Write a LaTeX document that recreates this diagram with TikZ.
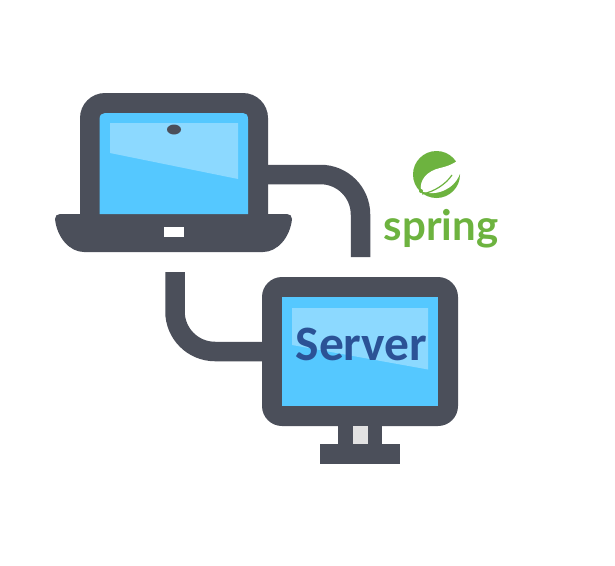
\documentclass[tikz,border=0pt]{standalone}
\usepackage{fontspec}
\newfontfamily\serverfont{Carlito}
\newfontfamily\springfont{Lato}
\usetikzlibrary{calc, positioning}
\definecolor{slate}{HTML}{4B4F5A}
\definecolor{sky}{HTML}{55C8FF}
\definecolor{glare}{HTML}{8CD9FF}
\definecolor{leaf}{HTML}{6DB33F}
\definecolor{label}{HTML}{2B5296}
\definecolor{neckfill}{HTML}{E2E2E2}
\tikzset{
	case/.style={shape=rectangle, fill=slate, inner sep=0pt},
	cable/.style={draw=slate, line width=19.5pt, rounded corners=40pt},
}
\begin{document}
\begin{tikzpicture}[x=1pt, y=-1pt]
	\useasboundingbox (0, 0) rectangle (615, 565);
	\fill[white] (0, 0) rectangle (615, 565);

	% laptop
	\node[case, rounded corners=25pt, minimum width=188pt, minimum height=150pt] (laptop) at (174, 168) {};
	\fill[slate] (60, 214) -- (287, 214) .. controls (290, 214) and (292, 216) .. (292, 219) .. controls (290, 238) and (277, 252) .. (263, 252) -- (84, 252) .. controls (70, 252) and (57, 238) .. (55, 219) .. controls (55, 216) and (57, 214) .. (60, 214) -- cycle;
	\fill[sky] (99.5, 214) -- (99.5, 119) .. controls (99.5, 115) and (102, 113) .. (105, 113) -- (243, 113) .. controls (246, 113) and (248, 115) .. (248, 119) -- (248, 214) -- cycle;
	\fill[glare] (110, 123) -- (238, 123) -- (238, 179) -- (110, 153) -- cycle;
	\fill[slate] (174, 129.5) ellipse (7 and 5);
	\fill[white] (163.5, 227) rectangle (184, 237);

	% monitor
	\node[case, rounded corners=20pt, minimum width=196pt, minimum height=149pt] (monitor) at (360, 351.5) {};
	\fill[sky] (282, 297) rectangle (438, 405.5);
	\fill[glare] (292, 308) -- (428, 308) -- (428, 369.5) -- (292, 345) -- cycle;
	\fill[slate] (338, 426) rectangle (382, 444);
	\fill[neckfill] (352.5, 426) rectangle (367.5, 444);
	\fill[slate] (320, 444) rectangle (400, 464);
	\node[font=\serverfont\bfseries\fontsize{49.5}{56}\selectfont, text=label, inner sep=0pt] (server) at (361.5, 344) {Server};

	% cables
	\coordinate (lapport) at ($(laptop.east) + (0, 6.5)$);
	\coordinate (end1) at (360.5, 257);
	\coordinate (end2) at (175, 272);
	\draw[cable] (lapport) -- (lapport -| end1) -- (end1);
	\draw[cable] (end2) -- (end2 |- monitor.west) -- (monitor.west);

	% logo
	\fill[leaf] (436.5, 174.5) circle (23.5);
	\fill[white] (421, 191) .. controls (419, 180) and (427, 171) .. (440, 168) .. controls (449, 166) and (456, 163) .. (461, 157) .. controls (464, 170) and (458, 184) .. (445, 190) .. controls (437, 194) and (428, 194) .. (421, 191) -- cycle;
	\draw[leaf, line width=1.2pt] (422, 194) .. controls (434, 192) and (446, 184) .. (452, 175);
	\fill[leaf] (421, 191) circle (2);
	\node[font=\springfont\bfseries\fontsize{42}{50}\selectfont, text=leaf, inner sep=0pt] (spring) at (441, 229) {spring};
\end{tikzpicture}
\end{document}
